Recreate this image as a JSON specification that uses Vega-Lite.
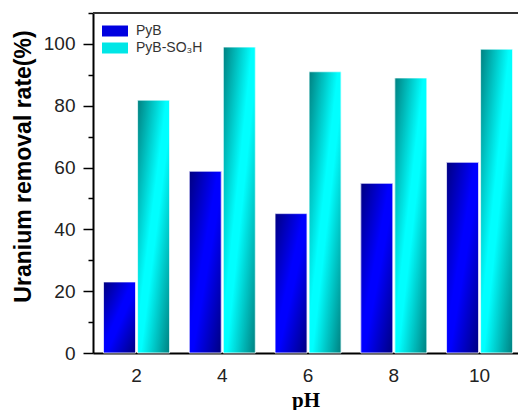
{
  "$schema": "https://vega.github.io/schema/vega-lite/v6.json",
  "width": 425,
  "height": 340,
  "autosize": {"type": "none"},
  "padding": {"left": 93, "top": 13, "right": 0, "bottom": 57},
  "background": "#ffffff",
  "config": {
    "view": {"stroke": null},
    "font": "Liberation Sans"
  },
  "data": {
    "values": [
      {"pH": "2", "series": "PyB", "rate": 23.0},
      {"pH": "2", "series": "PyB-SO₃H", "rate": 81.8},
      {"pH": "4", "series": "PyB", "rate": 58.8},
      {"pH": "4", "series": "PyB-SO₃H", "rate": 99.0},
      {"pH": "6", "series": "PyB", "rate": 45.1},
      {"pH": "6", "series": "PyB-SO₃H", "rate": 91.0},
      {"pH": "8", "series": "PyB", "rate": 54.9},
      {"pH": "8", "series": "PyB-SO₃H", "rate": 89.0},
      {"pH": "10", "series": "PyB", "rate": 61.7},
      {"pH": "10", "series": "PyB-SO₃H", "rate": 98.3}
    ]
  },
  "encoding": {
    "y": {
      "field": "rate",
      "type": "quantitative",
      "scale": {"domain": [0, 110], "nice": false},
      "axis": {
        "title": "Uranium removal rate(%)",
        "titleFontSize": 23,
        "titleFontWeight": "bold",
        "titleColor": "#000000",
        "titlePadding": 8,
        "titleY": 153,
        "values": [0, 10, 20, 30, 40, 50, 60, 70, 80, 90, 100, 110],
        "labelExpr": "datum.value % 20 === 0 && datum.value <= 100 ? datum.label : ''",
        "labelFontSize": 19,
        "labelColor": "#222222",
        "labelPadding": 8,
        "tickSize": {"condition": {"test": "datum.value % 20 === 0", "value": 10}, "value": 5},
        "tickColor": "#000000",
        "tickWidth": 1.5,
        "domainColor": "#000000",
        "domainWidth": 2,
        "grid": false
      }
    }
  },
  "layer": [
    {
      "mark": {"type": "bar"},
      "encoding": {
        "x": {
          "field": "pH",
          "type": "ordinal",
          "sort": null,
          "scale": {"paddingInner": 0.23, "paddingOuter": 0.093, "align": 0.66},
          "axis": {
            "title": "pH",
            "titleFont": "Liberation Serif",
            "titleFontSize": 21,
            "titleFontWeight": "bold",
            "titleColor": "#000000",
            "titlePadding": 4,
            "labelAngle": 0,
            "labelFontSize": 19,
            "labelColor": "#222222",
            "labelPadding": 13,
            "ticks": false,
            "tickSize": 0,
            "domainColor": "#000000",
            "domainWidth": 2
          }
        },
        "xOffset": {"field": "series", "type": "nominal", "scale": {"paddingInner": 0.06}},
        "color": {
          "field": "series",
          "type": "nominal",
          "scale": {"domain": ["PyB", "PyB-SO₃H"], "range": ["#0000e0", "#00e6e6"]},
          "legend": {
            "title": null,
            "orient": "none",
            "legendX": 15,
            "legendY": 11,
            "padding": 0,
            "symbolType": "M-2.36,-1H2.36V1H-2.36Z",
            "symbolSize": 121,
            "symbolStrokeWidth": 0,
            "labelOffset": 14,
            "labelFontSize": 14,
            "labelColor": "#333333",
            "rowPadding": 3
          }
        }
      }
    },
    {
      "mark": {"type": "bar", "stroke": "#ffffff", "strokeWidth": 1, "strokeOpacity": 0.8},
      "encoding": {
        "x": {"field": "pH", "type": "ordinal", "sort": null},
        "xOffset": {"field": "series", "type": "nominal"},
        "fill": {
          "condition": {
            "test": "datum.series === 'PyB'",
            "value": {
              "gradient": "linear", "x1": 0, "y1": 0, "x2": 1, "y2": 1,
              "stops": [
                {"offset": 0, "color": "#000080"},
                {"offset": 0.45, "color": "#0000ff"},
                {"offset": 0.55, "color": "#0000ff"},
                {"offset": 1, "color": "#000080"}
              ]
            }
          },
          "value": {
            "gradient": "linear", "x1": 0, "y1": 0, "x2": 1, "y2": 1,
            "stops": [
              {"offset": 0, "color": "#008080"},
              {"offset": 0.45, "color": "#00ffff"},
              {"offset": 0.55, "color": "#00ffff"},
              {"offset": 1, "color": "#008080"}
            ]
          }
        }
      }
    },
    {
      "mark": {"type": "rule", "color": "#333333", "strokeWidth": 2},
      "encoding": {"y": {"datum": 110}}
    }
  ]
}
